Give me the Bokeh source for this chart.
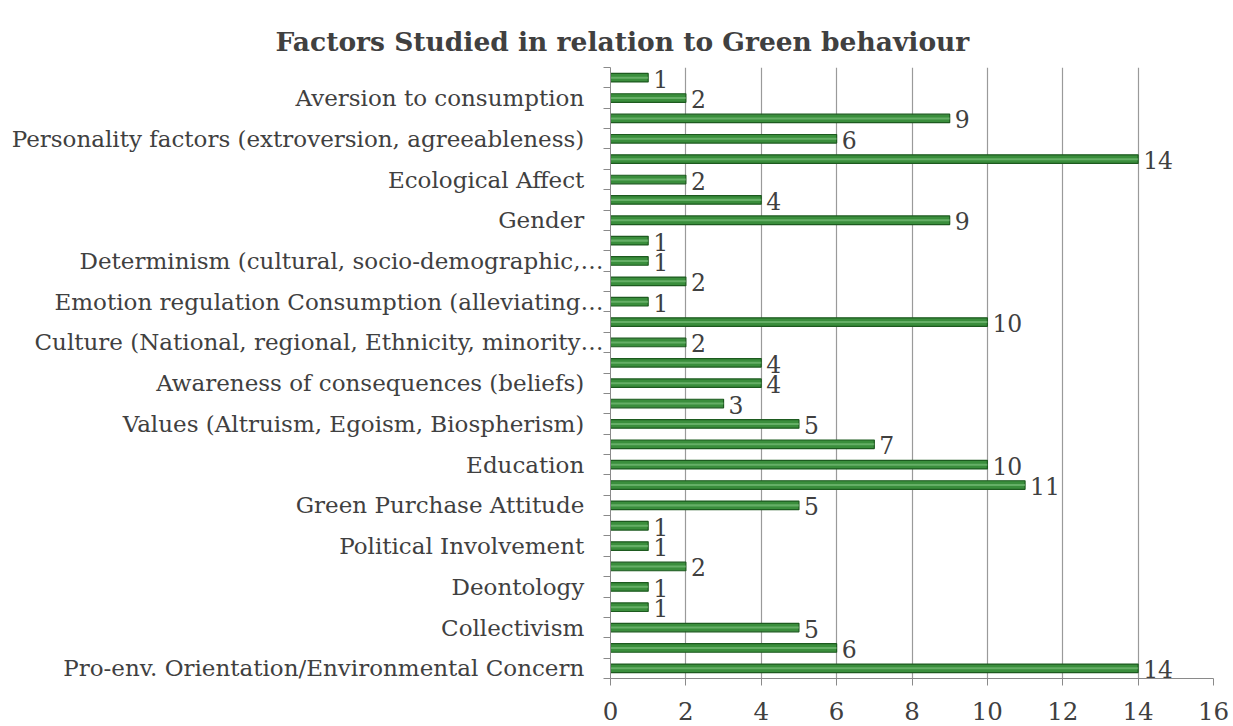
from bokeh.plotting import figure
from bokeh.models import Range1d, FixedTicker, ColumnDataSource
from bokeh.core.properties import value
from bokeh.embed import file_html
from bokeh.resources import INLINE

# Data, listed from top to bottom as in the chart
values = [1, 2, 9, 6, 14, 2, 4, 9, 1, 1, 2, 1, 10, 2, 4, 4, 3, 5, 7, 10, 11, 5, 1, 1, 2, 1, 1, 5, 6, 14]
# Only every other category shows a label (Excel skipped the others)
labels = [
    "", "Aversion to consumption",
    "", "Personality factors (extroversion, agreeableness)",
    "", "Ecological Affect",
    "", "Gender",
    "", "Determinism (cultural, socio-demographic,…",
    "", "Emotion regulation Consumption (alleviating…",
    "", "Culture (National, regional, Ethnicity, minority…",
    "", "Awareness of consequences (beliefs)",
    "", "Values (Altruism, Egoism, Biospherism)",
    "", "Education",
    "", "Green Purchase Attitude",
    "", "Political Involvement",
    "", "Deontology",
    "", "Collectivism",
    "", "Pro-env. Orientation/Environmental Concern",
]
x_ticks = [0, 2, 4, 6, 8, 10, 12, 14, 16]
title_text = "Factors Studied in relation to Green behaviour"

n = len(values)
ypos = [n - i for i in range(n)]
src = ColumnDataSource(dict(y=ypos, v=values, t=[str(v) for v in values]))

FONT = "DejaVu Serif"
TXT = "#404040"

p = figure(width=1233, height=726, output_backend="svg", toolbar_location=None,
           x_range=Range1d(0, 16), y_range=Range1d(0.5, n + 0.5),
           min_border_left=610, min_border_right=20, min_border_top=67, min_border_bottom=48)
p.outline_line_color = None
p.background_fill_color = "white"

p.title.text = title_text
p.title.text_font = FONT
p.title.text_font_style = "bold"
p.title.text_font_size = "26.5px"
p.title.text_color = TXT
p.title.align = "left"
p.title.offset = -335
p.title.standoff = 22

# grid
p.ygrid.grid_line_color = None
p.xgrid.ticker = FixedTicker(ticks=x_ticks)
p.xgrid.grid_line_color = "#9a9a9a"
p.xgrid.grid_line_width = 1.2

# x axis
xa = p.xaxis[0]
xa.ticker = FixedTicker(ticks=x_ticks)
xa.axis_line_color = "#8a8a8a"
xa.major_tick_line_color = "#8a8a8a"
xa.major_tick_out = 7
xa.major_tick_in = 0
xa.minor_tick_line_color = None
xa.major_label_text_font = FONT
xa.major_label_text_font_size = "24.5px"
xa.major_label_text_color = TXT
xa.major_label_standoff = 16

# y axis
ya = p.yaxis[0]
label_pos = [ypos[i] for i in range(n) if labels[i]]
ya.ticker = FixedTicker(ticks=label_pos, minor_ticks=[k + 0.5 for k in range(n + 1)])
ov = {}
for i in range(n):
    if labels[i]:
        ov[ypos[i]] = labels[i] if labels[i].endswith("…") else labels[i] + "\u00a0\u00a0\u2009"
ya.major_label_overrides = ov
ya.axis_line_color = "#8a8a8a"
ya.major_tick_line_color = None
ya.minor_tick_line_color = "#8a8a8a"
ya.minor_tick_out = 7
ya.minor_tick_in = 0
ya.major_label_text_font = FONT
ya.major_label_text_font_size = "23px"
ya.major_label_text_color = TXT
ya.major_label_standoff = 0

# bars
p.hbar(y="y", right="v", left=0, height=0.42, source=src,
       fill_color="#3a8e3c", line_color="#1d5a1f", line_width=1.2)
p.hbar(y="y", right="v", left=0, height=0.1, source=src,
       fill_color="#8fd08f", fill_alpha=0.5, line_color=None)

p.text(x="v", y="y", text="t", source=src, x_offset=5, y_offset=1,
       text_font=value(FONT), text_font_size="23.5px", text_color=TXT,
       text_baseline="middle", text_align="left")

open("out.html", "w").write(file_html(p, INLINE))
